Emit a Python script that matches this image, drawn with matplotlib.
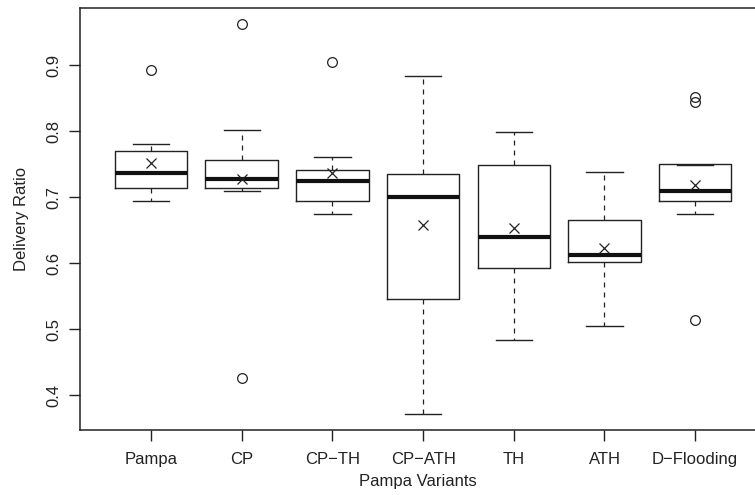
import matplotlib.pyplot as plt

plt.rcParams['font.family'] = ['Liberation Sans', 'DejaVu Sans']

# values
variants = ["Pampa", "CP", "CP\u2212TH", "CP\u2212ATH", "TH", "ATH", "D\u2212Flooding"]
whisker_low = [0.694, 0.709, 0.674, 0.371, 0.484, 0.505, 0.674]
q1 = [0.7145, 0.7145, 0.694, 0.546, 0.593, 0.6015, 0.694]
median = [0.736, 0.727, 0.7247, 0.700, 0.639, 0.6115, 0.709]
q3 = [0.770, 0.7555, 0.741, 0.735, 0.748, 0.665, 0.750]
whisker_high = [0.781, 0.802, 0.7615, 0.884, 0.799, 0.738, 0.749]
means = [0.752, 0.7277, 0.736, 0.657, 0.6535, 0.623, 0.7176]
outliers = [[0.892], [0.962, 0.426], [0.904], [], [], [], [0.8515, 0.844, 0.513]]

stats = []
for i, name in enumerate(variants):
    stats.append({
        "label": name,
        "whislo": whisker_low[i],
        "q1": q1[i],
        "med": median[i],
        "q3": q3[i],
        "whishi": whisker_high[i],
        "mean": means[i],
        "fliers": outliers[i],
    })

fig = plt.figure(figsize=(7.55, 4.95), dpi=100)
ax = fig.add_axes([0.1064, 0.1313, 0.8936, 0.8518])

line_col = "#222222"
ax.bxp(stats, positions=range(1, 8), widths=0.8, capwidths=0.4,
       showmeans=True,
       boxprops=dict(color=line_col, linewidth=1.0),
       medianprops=dict(color="#111111", linewidth=3.0, solid_capstyle="butt"),
       whiskerprops=dict(color=line_col, linewidth=0.9, linestyle=(0, (4, 4))),
       capprops=dict(color=line_col, linewidth=1.0),
       flierprops=dict(marker="o", markersize=7, markerfacecolor="none",
                       markeredgecolor=line_col, markeredgewidth=0.9),
       meanprops=dict(marker="x", markersize=7, markeredgecolor=line_col,
                      markeredgewidth=0.9))

ax.set_xlim(0.22, 7.66)
ax.set_ylim(0.347, 0.986)
ax.set_yticks([0.4, 0.5, 0.6, 0.7, 0.8, 0.9])
ax.set_yticklabels(["0.4", "0.5", "0.6", "0.7", "0.8", "0.9"], rotation=90, va="center")

for s in ax.spines.values():
    s.set_linewidth(1.1)
    s.set_color(line_col)
ax.spines["right"].set_visible(False)

ax.tick_params(axis="both", length=8, width=1.0, color=line_col, labelsize=12,
               labelcolor="#222222")
ax.tick_params(axis="x", pad=8)
ax.tick_params(axis="y", pad=6)

ax.set_xlabel("Pampa Variants", fontsize=12, color="#222222", labelpad=5)
ax.set_ylabel("Delivery Ratio", fontsize=12, color="#222222", labelpad=12)

fig.savefig("out.png", dpi=100)
